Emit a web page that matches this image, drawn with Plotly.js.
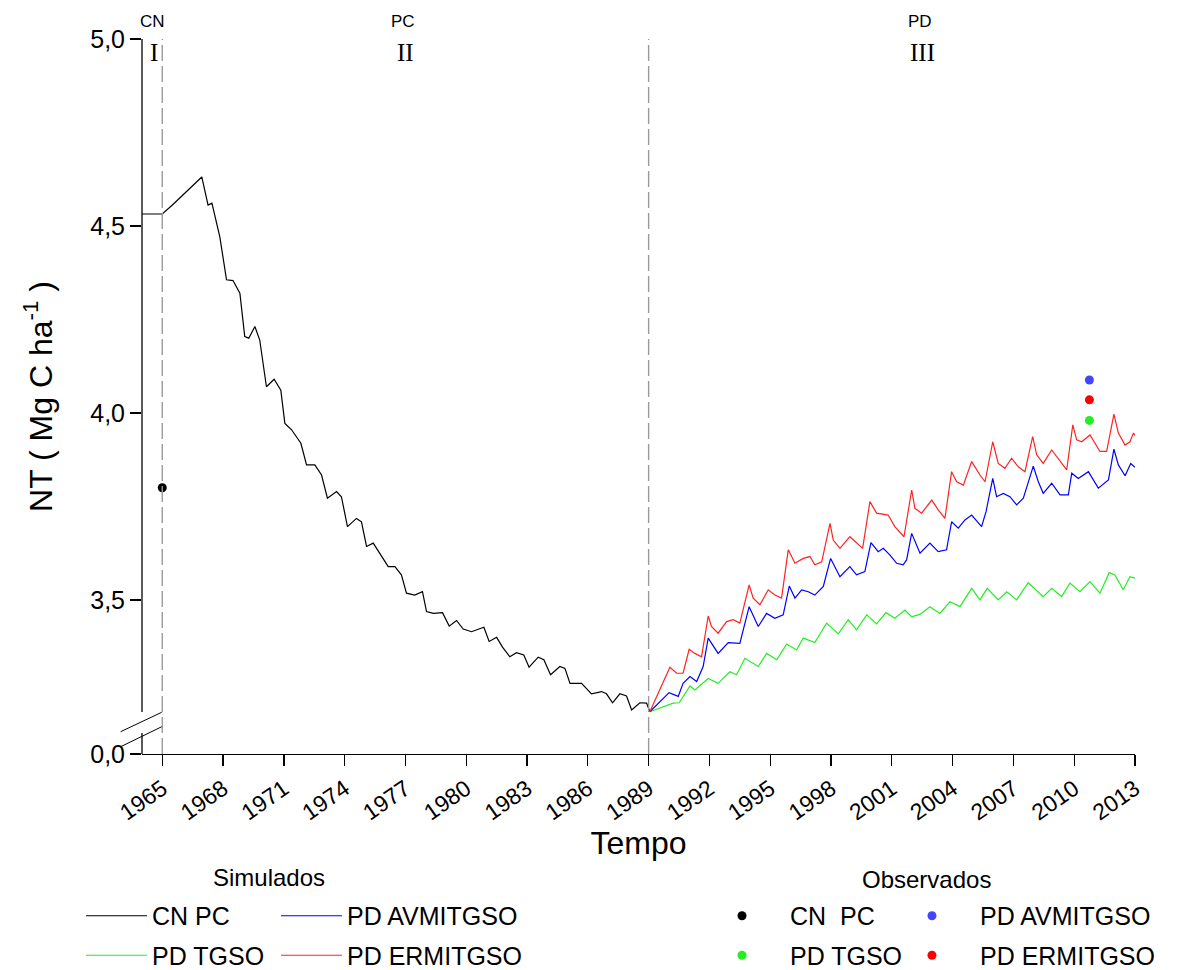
<!DOCTYPE html>
<html>
<head>
<meta charset="utf-8">
<script src="https://cdn.plot.ly/plotly-3.0.1.min.js"></script>
<style>html,body{margin:0;padding:0;background:#fff;}</style>
</head>
<body>
<div id="chart" style="width:1181px;height:970px;"></div>
<script>
// ---- Simulated: CN PC (black) ----
const cnpcYear = [1964.0,1965.0,1965.5,1966.95,1967.26,1967.45,1967.84,1968.17,1968.49,1968.83,1969.07,1969.27,1969.57,1969.81,1970.14,1970.52,1970.85,1971.05,1971.38,1971.84,1972.12,1972.53,1972.86,1973.15,1973.6,1973.84,1974.14,1974.58,1974.83,1975.08,1975.41,1975.82,1976.15,1976.48,1976.8,1977.05,1977.46,1977.84,1978.04,1978.37,1978.83,1979.16,1979.52,1979.85,1980.26,1980.87,1981.13,1981.5,1981.79,1982.15,1982.48,1982.84,1983.1,1983.55,1983.83,1984.16,1984.62,1984.87,1985.12,1985.69,1986.18,1986.68,1986.92,1987.22,1987.58,1987.91,1988.16,1988.57,1988.9,1989.06];
const cnpcVal = [4.532,4.532,4.556,4.631,4.556,4.561,4.471,4.356,4.354,4.32,4.204,4.20,4.231,4.195,4.07,4.09,4.061,3.972,3.955,3.919,3.861,3.861,3.834,3.772,3.79,3.776,3.696,3.718,3.709,3.643,3.652,3.616,3.589,3.589,3.567,3.518,3.513,3.522,3.469,3.464,3.466,3.43,3.445,3.422,3.415,3.427,3.389,3.40,3.374,3.348,3.359,3.353,3.32,3.347,3.34,3.30,3.322,3.317,3.277,3.277,3.249,3.255,3.249,3.225,3.249,3.243,3.206,3.225,3.224,3.201];

// ---- Simulated: PD TGSO (green) ----
const tgsoYear = [1989.06,1990.21,1990.51,1991.04,1991.28,1991.94,1992.43,1993.01,1993.34,1993.75,1994.41,1994.82,1995.32,1995.81,1996.3,1996.63,1997.2,1997.78,1998.36,1998.85,1999.26,1999.76,2000.25,2000.71,2001.15,2001.65,2001.98,2002.4,2002.88,2003.37,2003.87,2004.36,2004.94,2005.35,2005.71,2006.25,2006.67,2007.16,2007.73,2008.47,2008.89,2009.38,2009.79,2010.28,2010.78,2011.27,2011.73,2012.01,2012.42,2012.75,2013.0];
const tgsoVal = [3.201,3.224,3.225,3.27,3.259,3.29,3.277,3.308,3.30,3.344,3.322,3.357,3.34,3.382,3.366,3.398,3.386,3.438,3.409,3.447,3.42,3.46,3.436,3.466,3.451,3.473,3.455,3.462,3.482,3.464,3.495,3.482,3.531,3.50,3.531,3.50,3.522,3.50,3.546,3.509,3.531,3.509,3.545,3.522,3.549,3.518,3.573,3.567,3.527,3.562,3.558];

// ---- Simulated: PD AVMITGSO (blue) ----
const avmYear = [1989.06,1990.01,1990.46,1990.7,1991.04,1991.37,1991.69,1991.94,1992.43,1992.93,1993.5,1993.96,1994.41,1994.82,1995.23,1995.64,1995.94,1996.22,1996.55,1996.88,1997.2,1997.62,1997.98,1998.44,1998.93,1999.26,1999.67,1999.97,2000.33,2000.58,2000.91,2001.24,2001.56,2001.73,2001.98,2002.39,2002.88,2003.29,2003.7,2003.95,2004.28,2004.61,2004.94,2005.43,2005.65,2005.98,2006.17,2006.5,2006.83,2007.16,2007.49,2007.98,2008.23,2008.47,2008.89,2009.3,2009.71,2009.88,2010.2,2010.7,2011.19,2011.69,2011.96,2012.18,2012.51,2012.79,2013.0];
const avmVal = [3.201,3.252,3.242,3.277,3.295,3.282,3.322,3.398,3.357,3.386,3.384,3.482,3.429,3.464,3.451,3.46,3.537,3.505,3.527,3.522,3.513,3.536,3.611,3.562,3.589,3.567,3.576,3.653,3.629,3.638,3.62,3.598,3.594,3.607,3.678,3.625,3.652,3.629,3.634,3.709,3.692,3.714,3.727,3.696,3.736,3.825,3.776,3.785,3.776,3.754,3.772,3.858,3.816,3.785,3.812,3.781,3.781,3.839,3.825,3.843,3.799,3.821,3.903,3.861,3.832,3.865,3.855];

// ---- Simulated: PD ERMITGSO (red) ----
const ermYear = [1989.06,1990.05,1990.38,1990.7,1991.0,1991.28,1991.61,1991.94,1992.1,1992.43,1992.85,1993.17,1993.5,1993.96,1994.16,1994.49,1994.9,1995.23,1995.56,1995.89,1996.22,1996.63,1996.96,1997.2,1997.54,1997.95,1998.11,1998.44,1998.93,1999.56,1999.92,2000.25,2000.82,2001.15,2001.6,2001.98,2002.14,2002.47,2002.97,2003.29,2003.62,2003.95,2004.2,2004.53,2004.94,2005.35,2005.6,2005.98,2006.25,2006.58,2006.91,2007.24,2007.57,2007.95,2008.15,2008.47,2008.89,2009.3,2009.63,2009.93,2010.12,2010.37,2010.78,2011.27,2011.6,2011.96,2012.18,2012.51,2012.75,2012.92,2013.0];
const ermVal = [3.201,3.32,3.304,3.304,3.368,3.357,3.348,3.457,3.429,3.411,3.442,3.447,3.438,3.54,3.505,3.487,3.527,3.513,3.505,3.634,3.598,3.611,3.616,3.594,3.602,3.705,3.66,3.638,3.669,3.638,3.763,3.732,3.727,3.696,3.669,3.794,3.745,3.732,3.767,3.741,3.718,3.843,3.816,3.807,3.87,3.834,3.816,3.923,3.865,3.852,3.879,3.856,3.843,3.937,3.888,3.865,3.901,3.87,3.848,3.968,3.928,3.923,3.941,3.897,3.897,3.997,3.946,3.914,3.923,3.946,3.94];

// ---- Observed ----
const obsNames = ['CN  PC','PD TGSO','PD AVMITGSO','PD ERMITGSO'];
const obsYear = [1965, 2010.75, 2010.75, 2010.75];
const obsVal = [3.80, 3.98, 4.088, 4.035];
const obsColors = ['#000000','#22ee22','#4444ff','#ff0000'];

// ---- Axes / labels ----
const xTickYears = [1965,1968,1971,1974,1977,1980,1983,1986,1989,1992,1995,1998,2001,2004,2007,2010,2013];
const yBreakBase = 3.088;           // position standing for 0,0 below the axis break
const yTickVals = [yBreakBase, 3.5, 4.0, 4.5, 5.0];
const yTickText = ['0,0','3,5','4,0','4,5','5,0'];
const periodBounds = [1965, 1989];
const periodLabels = ['CN','PC','PD'];
const periodNumerals = ['I','II','III'];
const periodLabelYears = [1964.5, 1976.9, 2002.4];

const FONT = 'Liberation Sans, Arial, sans-serif';

const traces = [
  {x: cnpcYear, y: cnpcVal, mode:'lines', name:'CN PC', line:{color:'#000000', width:1.2}, legend:'legend', legendgroup:'s1'},
  {x: tgsoYear, y: tgsoVal, mode:'lines', name:'PD TGSO', line:{color:'#22ee22', width:1.2}, legend:'legend', legendgroup:'s2'},
  {x: avmYear, y: avmVal, mode:'lines', name:'PD AVMITGSO', line:{color:'#0000ff', width:1.2}, legend:'legend2', legendgroup:'s3'},
  {x: ermYear, y: ermVal, mode:'lines', name:'PD ERMITGSO', line:{color:'#ff2222', width:1.2}, legend:'legend2', legendgroup:'s4'}
];
const obsLegend = ['legend3','legend3','legend4','legend4'];
for (let i = 0; i < obsNames.length; i++) {
  traces.push({x:[obsYear[i]], y:[obsVal[i]], mode:'markers', name: obsNames[i],
    marker:{color: obsColors[i], size:9}, legend: obsLegend[i], legendgroup:'o'+i});
}

const shapes = [];
periodBounds.forEach(b => shapes.push({type:'line', xref:'x', yref:'paper', x0:b, x1:b, y0:0, y1:1,
  line:{color:'#9a9a9a', width:1.4, dash:'16px,5px'}}));
// y-axis line with break
shapes.push({type:'line', xref:'paper', yref:'paper', x0:0, x1:0, y0:0.0587, y1:1, line:{color:'#000', width:1.3}});
shapes.push({type:'line', xref:'paper', yref:'paper', x0:0, x1:0, y0:0, y1:0.0294, line:{color:'#000', width:1.3}});
shapes.push({type:'line', xref:'paper', yref:'paper', x0:-0.0215, x1:0.0198, y0:0.0312, y1:0.0583, line:{color:'#000', width:1}});
shapes.push({type:'line', xref:'paper', yref:'paper', x0:-0.0215, x1:0.0198, y0:0.0102, y1:0.0381, line:{color:'#000', width:1}});

const annotations = [];
for (let i = 0; i < periodLabels.length; i++) {
  annotations.push({xref:'x', yref:'paper', x: periodLabelYears[i], y:1.024, yanchor:'middle', text: periodLabels[i], showarrow:false,
    font:{family:FONT, size:17, color:'#000'}});
  annotations.push({xref:'x', yref:'paper', x: periodLabelYears[i] + 0.1, y:0.9805, yanchor:'middle', text: periodNumerals[i], showarrow:false,
    font:{family:'Liberation Serif, Times New Roman, serif', size:25, color:'#000'}});
}
annotations.push({xref:'paper', yref:'paper', x:0.128, y:-0.1734, xanchor:'center', yanchor:'middle', text:'Simulados', showarrow:false, font:{family:FONT, size:24, color:'#000'}});
annotations.push({xref:'paper', yref:'paper', x:0.7905, y:-0.176, xanchor:'center', yanchor:'middle', text:'Observados', showarrow:false, font:{family:FONT, size:24, color:'#000'}});

const legBase = {orientation:'v', yanchor:'top', xanchor:'left', bgcolor:'rgba(0,0,0,0)', font:{family:FONT, size:25, color:'#000'},
  tracegroupgap:4, itemclick:false};
const layout = {
  width:1181, height:970,
  margin:{l:142, r:46, t:39, b:216, autoexpand:false},
  paper_bgcolor:'#fff', plot_bgcolor:'#fff',
  font:{family:FONT, color:'#000'},
  showlegend:true,
  xaxis:{range:[1964, 2013], tickmode:'array', tickvals:xTickYears, ticktext:xTickYears.map(String),
    ticks:'outside', ticklen:11, tickwidth:1.3, tickcolor:'#000', showline:true, linecolor:'#000', linewidth:1.3,
    showgrid:false, zeroline:false, tickangle:-35, tickfont:{family:FONT, size:23, color:'#000'},
    title:{text:'Tempo', font:{family:FONT, size:32, color:'#000'}, standoff:0}},
  yaxis:{range:[yBreakBase, 5.0], tickmode:'array', tickvals:yTickVals, ticktext:yTickText,
    ticks:'outside', ticklen:11, tickwidth:1.3, tickcolor:'#000', showline:false, showgrid:false, zeroline:false,
    tickfont:{family:FONT, size:25, color:'#000'},
    title:{text:'NT ( Mg C ha<sup>-1</sup> )', font:{family:FONT, size:32, color:'#000'}, standoff:28}},
  legend: Object.assign({}, legBase, {x:-0.0614, y:-0.1944, itemwidth:61}),
  legend2: Object.assign({}, legBase, {x:0.1349, y:-0.1944, itemwidth:61}),
  legend3: Object.assign({}, legBase, {x:0.5559, y:-0.1944, itemwidth:86}),
  legend4: Object.assign({}, legBase, {x:0.7472, y:-0.1944, itemwidth:86}),
  shapes: shapes,
  annotations: annotations
};

Plotly.newPlot('chart', traces, layout, {displayModeBar:false, staticPlot:true});
</script>
</body>
</html>
